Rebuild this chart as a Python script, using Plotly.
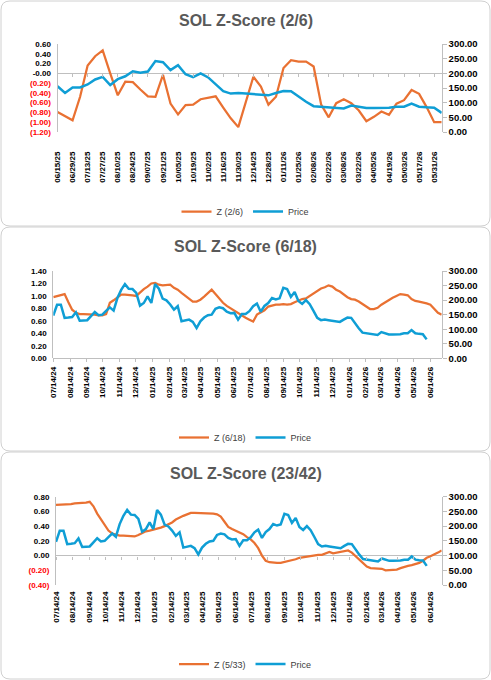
import numpy as np
import pandas as pd
import plotly.graph_objects as go

W, H = 491, 680
ORANGE = "#E97132"
BLUE = "#0F9ED5"
AXIS_GRAY = "#BFBFBF"

# weekly price, 07/14/24 .. 06/07/26
price_dates = pd.date_range("2024-07-14", periods=100, freq="7D")
price = [
    147, 184, 184, 139, 140, 142, 158, 129, 130, 131,
    145, 159, 148, 150, 163, 175, 164, 207, 235, 255,
    239, 238, 225, 181, 190, 213, 190, 255, 239, 205,
    199, 185, 167, 179, 127, 129, 133, 125, 104, 127,
    140, 148, 150, 170, 175, 172, 160, 155, 156, 133,
    152, 152, 162, 179, 188, 160, 180, 190, 207, 202,
    206, 242, 238, 211, 228, 197, 187, 200, 186, 163,
    139, 131, 133, 131, 129, 125, 125, 133, 140, 139,
    120, 103, 88, 86, 83, 82, 80, 90, 86, 82,
    82, 82, 83, 86, 86, 97, 86, 84, 83, 65,
]

# panel 1: Z (2/6), weekly 06/15/25 .. 06/07/26
z1_dates = pd.date_range("2025-06-15", periods=52, freq="7D")
z1 = [
    -0.79, -0.88, -0.96, -0.48, 0.16, 0.35, 0.47, 0.00, -0.45, -0.17,
    -0.18, -0.33, -0.47, -0.48, -0.03, -0.62, -0.84, -0.65, -0.64, -0.53,
    -0.50, -0.47, -0.70, -0.92, -1.10, -0.58, -0.07, -0.27, -0.64, -0.48,
    0.11, 0.27, 0.24, 0.24, 0.14, -0.64, -0.90, -0.61, -0.53, -0.61,
    -0.76, -0.98, -0.89, -0.78, -0.85, -0.62, -0.55, -0.34, -0.42, -0.69,
    -1.00, -1.00,
]

# panels 2 and 3: weekly 07/14/24 .. 07/05/26
z_dates = pd.date_range("2024-07-14", periods=104, freq="7D")
z2 = [
    0.98, 1.00, 1.01, 1.03, 0.90, 0.78, 0.73, 0.71, 0.71, 0.71,
    0.70, 0.70, 0.69, 0.69, 0.71, 0.89, 0.93, 0.98, 1.02, 1.02,
    1.02, 1.01, 1.00, 1.06, 1.11, 1.15, 1.20, 1.21, 1.18, 1.17,
    1.18, 1.18, 1.13, 1.10, 1.05, 1.00, 0.95, 0.91, 0.91, 0.94,
    0.99, 1.05, 1.10, 1.03, 0.96, 0.89, 0.84, 0.80, 0.76, 0.72,
    0.69, 0.65, 0.62, 0.59, 0.70, 0.73, 0.77, 0.83, 0.85, 0.86,
    0.86, 0.87, 0.86, 0.87, 0.90, 0.93, 0.95, 0.96, 1.00, 1.04,
    1.09, 1.12, 1.14, 1.17, 1.15, 1.10, 1.07, 1.02, 0.98, 0.95,
    0.94, 0.91, 0.87, 0.82, 0.79, 0.79, 0.81, 0.86, 0.90, 0.94,
    0.97, 1.00, 1.03, 1.02, 1.01, 0.95, 0.92, 0.91, 0.90, 0.88,
    0.86, 0.80, 0.73, 0.70,
]
z3 = [
    0.69, 0.69, 0.70, 0.70, 0.70, 0.71, 0.71, 0.72, 0.72, 0.73,
    0.67, 0.57, 0.49, 0.41, 0.34, 0.30, 0.28, 0.27, 0.27, 0.27,
    0.27, 0.26, 0.28, 0.31, 0.33, 0.34, 0.35, 0.36, 0.38, 0.40,
    0.42, 0.45, 0.49, 0.52, 0.54, 0.56, 0.58, 0.58, 0.58, 0.58,
    0.58, 0.57, 0.57, 0.56, 0.53, 0.46, 0.39, 0.36, 0.34, 0.32,
    0.29, 0.25, 0.22, 0.17, 0.10, 0.00, -0.07, -0.09, -0.10, -0.10,
    -0.10, -0.09, -0.08, -0.06, -0.05, -0.03, -0.02, -0.01, 0.00, 0.00,
    0.01, 0.01, 0.03, 0.05, 0.03, 0.04, 0.05, 0.07, 0.07, 0.04,
    -0.01, -0.06, -0.11, -0.15, -0.17, -0.17, -0.18, -0.18, -0.20, -0.20,
    -0.20, -0.19, -0.17, -0.15, -0.14, -0.13, -0.12, -0.10, -0.07, -0.03,
    -0.01, 0.01, 0.04, 0.07,
]

titles = ["SOL Z-Score (2/6)", "SOL Z-Score (6/18)", "SOL Z-Score (23/42)"]
z_names = ["Z (2/6)", "Z (6/18)", "Z (5/33)"]


def px(x):
    return x / W


def py(y):
    return 1 - y / H


def zfmt(v):
    if v < -1e-9:
        return f"<span style='color:#FF0000'>({abs(v):.2f})</span>"
    return f"{v:.2f}"


def round_box(x0, y0, x1, y1, r=9):
    # rounded rectangle in paper coords, from pixel box
    a, b, c, d = px(x0), py(y0), px(x1), py(y1)
    rx, ry = r / W, r / H
    return (f"M {a+rx},{b} L {c-rx},{b} Q {c},{b} {c},{b-ry} "
            f"L {c},{d+ry} Q {c},{d} {c-rx},{d} L {a+rx},{d} "
            f"Q {a},{d} {a},{d+ry} L {a},{b-ry} Q {a},{b} {a+rx},{b} Z")


# pixel geometry per panel
panels = [
    dict(box=(1, 1, 490, 226), title_y=20, x0=57.5, x1=441.7, top=44, bot=132,
         zr=(-1.2, 0.6), zero=73.3, leg_y=211.5, lab_gap=17,
         xr=("2025-06-15", "2026-06-07"), dtick=14 * 86400000, tick0="2025-06-15"),
    dict(box=(1, 227, 490, 451), title_y=246.5, x0=53.3, x1=441.7, top=271, bot=358.3,
         zr=(0.0, 1.4), zero=358.3, leg_y=437.5, lab_gap=6,
         xr=("2024-07-14", "2026-07-05"), dtick="M1", tick0="2024-07-14"),
    dict(box=(1, 452, 490, 679), title_y=473, x0=56, x1=441.7, top=496.7, bot=585,
         zr=(-0.4, 0.8), zero=556, leg_y=664, lab_gap=4,
         xr=("2024-07-14", "2026-07-05"), dtick="M1", tick0="2024-07-14"),
]

series = [
    (z1_dates, z1, price_dates[48:], price[48:]),
    (z_dates, z2, price_dates, price),
    (z_dates, z3, price_dates, price),
]

fig = go.Figure()
layout = dict(
    width=W, height=H, template="none",
    margin=dict(l=0, r=0, t=0, b=0),
    paper_bgcolor="white", plot_bgcolor="rgba(0,0,0,0)",
    font=dict(family="Liberation Sans, Arial, sans-serif", color="black"),
    shapes=[], annotations=[], showlegend=True,
)

for i, (p, (zd, zv, pd_, pv)) in enumerate(zip(panels, series)):
    xa = "x" if i == 0 else f"x{i+1}"
    ya_l = "y" if i == 0 else f"y{2*i+1}"
    ya_r = f"y{2*i+2}"
    xo = f"x{i+4}"
    leg = "legend" if i == 0 else f"legend{i+1}"
    at_bottom = p["zr"][0] == 0

    fig.add_trace(go.Scatter(x=zd, y=zv, mode="lines", name=z_names[i],
                             line=dict(color=ORANGE, width=2.25),
                             xaxis=xa, yaxis=ya_l, legend=leg))
    fig.add_trace(go.Scatter(x=pd_, y=pv, mode="lines", name="Price",
                             line=dict(color=BLUE, width=2.5),
                             xaxis=xa, yaxis=ya_r, legend=leg))
    # empty trace so the tick-mark axis at z = 0 gets drawn
    fig.add_trace(go.Scatter(x=[zd[0]], y=[None], mode="lines", showlegend=False,
                             hoverinfo="skip", xaxis=xo, yaxis=ya_l))

    xdom = [px(p["x0"]), px(p["x1"])]
    ydom = [py(p["bot"]), py(p["top"])]
    zt = np.round(np.arange(p["zr"][0], p["zr"][1] + 0.001, 0.2), 2)

    layout[xa.replace("x", "xaxis")] = dict(
        type="date", domain=xdom, anchor=ya_l, range=list(p["xr"]),
        dtick=p["dtick"], tick0=p["tick0"], tickformat="%m/%d/%y",
        tickangle=-90, ticks="", showline=False, showgrid=False, zeroline=False,
        tickfont=dict(size=8, weight="bold"), ticklabelstandoff=p["lab_gap"],
    )
    layout[ya_l.replace("y", "yaxis")] = dict(
        domain=ydom, anchor=xa, range=list(p["zr"]), tickvals=list(zt),
        ticktext=[zfmt(v) for v in zt], showgrid=False,
        zeroline=not at_bottom, zerolinecolor=AXIS_GRAY, zerolinewidth=1,
        showline=True, linecolor=AXIS_GRAY, linewidth=1, ticks="",
        tickfont=dict(size=8, weight="bold"), ticklabelstandoff=4,
    )
    layout[ya_r.replace("y", "yaxis")] = dict(
        overlaying=ya_l, side="right", anchor=xa, range=[0, 300], dtick=50,
        tickformat=".2f", showgrid=False, zeroline=False,
        showline=True, linecolor=AXIS_GRAY, linewidth=1,
        ticks="outside", ticklen=4, tickcolor=AXIS_GRAY,
        tickfont=dict(size=9.5, weight="bold"),
    )
    # category-style tick marks on the z = 0 line
    layout[f"xaxis{i+4}"] = dict(
        type="date", overlaying=xa, anchor="free", position=py(p["zero"]),
        range=list(p["xr"]), dtick=p["dtick"], tick0=p["tick0"],
        showticklabels=False, showgrid=False, zeroline=False,
        showline=at_bottom, linecolor=AXIS_GRAY, linewidth=1,
        ticks="outside", ticklen=3, tickcolor=AXIS_GRAY,
    )

    layout[leg] = dict(
        orientation="h", x=0.5, xanchor="center", y=py(p["leg_y"]), yanchor="middle",
        font=dict(size=9, color="#404040"), bgcolor="rgba(0,0,0,0)",
        itemwidth=30,
    )
    layout["annotations"].append(dict(
        text=f"<b>{titles[i]}</b>", x=0.5, y=py(p["title_y"]), xref="paper", yref="paper",
        xanchor="center", yanchor="middle", showarrow=False,
        font=dict(size=16, color="#595959"),
    ))
    layout["shapes"].append(dict(
        type="path", path=round_box(*p["box"]), xref="paper", yref="paper",
        line=dict(color="#D0D0D0", width=1), fillcolor="white", layer="below",
    ))

fig.update_layout(**layout)
fig.write_html("out.html", config={"displayModeBar": False},
               post_script="document.body.style.margin='0';")
